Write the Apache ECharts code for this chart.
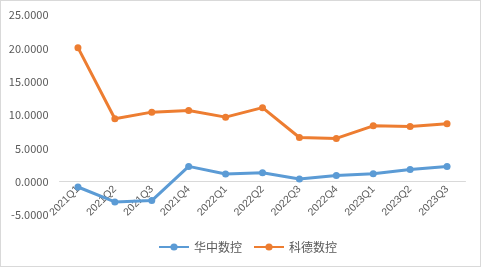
<!DOCTYPE html>
<html><head><meta charset="utf-8">
<script src="https://cdn.jsdelivr.net/npm/echarts@6/dist/echarts.min.js"></script>
<style>html,body{margin:0;padding:0;background:#fff}#c{width:479px;height:265px;border:1px solid #d9d9d9}</style>
</head><body><div id="c"></div>
<script>
const categories = ['2021Q1','2021Q2','2021Q3','2021Q4','2022Q1','2022Q2','2022Q3','2022Q4','2023Q1','2023Q2','2023Q3'];
const huazhong = [-0.80,-3.04,-2.84,2.29,1.14,1.35,0.40,0.94,1.20,1.84,2.29];
const kede = [20.10,9.43,10.43,10.67,9.68,11.10,6.63,6.49,8.38,8.28,8.68];
const seriesNames = ['华中数控','科德数控'];
const chart = echarts.init(document.getElementById('c'));
const font = '"Microsoft YaHei","Noto Sans CJK SC",sans-serif';
const gridTop = 14, gridBottom = 51, H = 265;
const yMin = -5, yMax = 25;
const zeroOffset = (H - gridTop - gridBottom) * (0 - yMin) / (yMax - yMin);
chart.setOption({
  animation:false,
  textStyle:{fontFamily:font},
  grid:{left:58.5,right:14.5,top:gridTop,bottom:gridBottom},
  legend:{top:235,left:152,itemWidth:30,itemHeight:9,itemGap:11,
    textStyle:{color:'#595959',fontSize:12,fontFamily:font},data:seriesNames},
  xAxis:{type:'category',data:categories,position:'bottom',offset:-zeroOffset,
    axisLine:{onZero:false,lineStyle:{color:'#d9d9d9',width:1}},
    axisTick:{show:false},
    axisLabel:{rotate:45,color:'#595959',fontSize:10.5,margin:6,interval:0,hideOverlap:false,fontFamily:'"Liberation Sans",sans-serif'}},
  yAxis:{type:'value',min:yMin,max:yMax,interval:5,
    splitLine:{show:false},axisLine:{show:false},axisTick:{show:false},
    axisLabel:{color:'#595959',fontSize:11,margin:11,formatter:v=>v.toFixed(4),fontFamily:font}},
  series:[
    {name:seriesNames[0],type:'line',data:huazhong,symbol:'circle',symbolSize:7,
     lineStyle:{width:3,color:'#5B9BD5'},itemStyle:{color:'#5B9BD5'}},
    {name:seriesNames[1],type:'line',data:kede,symbol:'circle',symbolSize:7,
     lineStyle:{width:3,color:'#ED7D31'},itemStyle:{color:'#ED7D31'}}
  ]
});
</script></body></html>
